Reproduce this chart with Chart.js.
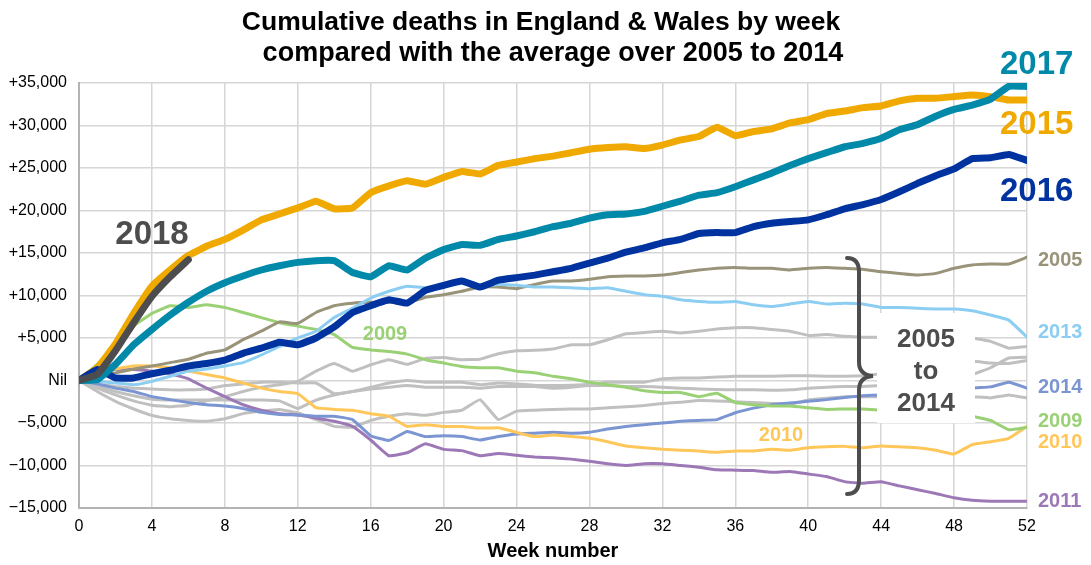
<!DOCTYPE html>
<html>
<head>
<meta charset="utf-8">
<script src="https://cdn.jsdelivr.net/npm/chart.js@4"></script>
<style>
  body { margin: 0; background: #fff; }
  #wrap { width: 1091px; height: 565px; position: relative; }
</style>
</head>
<body>
<div id="wrap"><canvas id="chart"></canvas></div>
<script>
// cumulative excess deaths, thousands, vs 2005-2014 average
const weeks = [0, 1, 2, 3, 4, 5, 6, 7, 8, 9, 10, 11, 12, 13, 14, 15, 16, 17, 18, 19, 20,
  21, 22, 23, 24, 25, 26, 27, 28, 29, 30, 31, 32, 33, 34, 35, 36, 37, 38, 39, 40, 41,
  42, 43, 44, 45, 46, 47, 48, 49, 50, 51, 52];

const y2018 = [0, 0.7, 3.5, 6.8, 9.9, 12.2, 14.2];
const y2017 = [0, 0.1, 1.9, 4.2, 6.0, 7.7, 9.2, 10.5, 11.5, 12.3, 13.0, 13.5, 13.9,
  14.1, 14.1, 12.7, 12.2, 13.5, 13.0, 14.4, 15.4, 16.0, 15.9, 16.6, 17.0,
  17.5, 18.1, 18.5, 19.1, 19.5, 19.6, 19.9, 20.5, 21.1, 21.8, 22.1, 22.8,
  23.6, 24.4, 25.3, 26.1, 26.8, 27.5, 27.9, 28.5, 29.5, 30.1, 31.1, 31.9, 32.4, 33.1, 34.6, 34.6];
const y2016 = [0, 1.3, 0.3, 0.3, 0.8, 1.2, 1.7, 2.0, 2.4, 3.2, 3.8, 4.5, 4.2,
  5.0, 6.3, 8.0, 8.8, 9.5, 9.1, 10.6, 11.2, 11.7, 11.0, 11.8, 12.1,
  12.4, 12.8, 13.2, 13.8, 14.4, 15.1, 15.6, 16.2, 16.6, 17.3, 17.4, 17.4,
  18.1, 18.5, 18.7, 18.9, 19.5, 20.2, 20.7, 21.3, 22.2, 23.2, 24.1, 24.9, 26.1, 26.2, 26.6, 25.9];
const y2015 = [0, 1.5, 4.3, 7.9, 11.1, 13.0, 14.7, 15.8, 16.6, 17.7, 18.9, 19.6, 20.3,
  21.1, 20.2, 20.3, 22.1, 22.9, 23.5, 23.1, 23.9, 24.6, 24.3, 25.3, 25.7,
  26.1, 26.4, 26.8, 27.2, 27.4, 27.5, 27.3, 27.7, 28.3, 28.7, 29.8, 28.8,
  29.3, 29.6, 30.3, 30.7, 31.4, 31.7, 32.1, 32.3, 32.9, 33.2, 33.2, 33.4, 33.6, 33.4, 33.0, 33.0];
const y2005 = [0, 0.5, 0.9, 1.35, 1.7, 2.1, 2.5, 3.2, 3.6, 4.8, 5.8, 6.9, 6.7,
  8.0, 8.8, 9.1, 9.2, 9.2, 9.1, 9.8, 10.1, 10.5, 11.0, 11.0, 10.8,
  11.3, 11.7, 11.7, 11.9, 12.2, 12.3, 12.3, 12.4, 12.7, 13.0, 13.2, 13.3,
  13.2, 13.2, 13.0, 13.2, 13.3, 13.2, 13.1, 12.8, 12.6, 12.4, 12.6, 13.2, 13.6, 13.7, 13.7, 14.5];
const y2013 = [0, -0.1, -0.3, -0.5, -0.1, 0.5, 1.1, 1.35, 1.7, 2.1, 3.0, 4.0, 5.0,
  5.8, 7.4, 8.5, 9.7, 10.5, 11.1, 10.9, 11.2, 11.4, 11.1, 11.3, 11.2,
  11.0, 11.0, 10.9, 10.8, 10.9, 10.5, 10.1, 9.9, 9.5, 9.3, 9.2, 9.3,
  8.9, 8.7, 9.0, 9.3, 9.0, 9.1, 9.0, 8.6, 8.6, 8.5, 8.4, 8.4, 8.2, 7.7, 7.1, 5.1];
const y2009 = [0, 1.9, 4.0, 6.4, 7.9, 8.8, 8.6, 8.9, 8.6, 8.0, 7.4, 6.8, 6.4,
  6.0, 5.4, 3.9, 3.6, 3.4, 3.1, 2.45, 2.05, 1.65, 1.5, 1.5, 1.1,
  0.9, 0.5, 0.2, -0.2, -0.5, -0.8, -1.2, -1.4, -1.4, -1.9, -1.5, -2.6,
  -2.85, -3.0, -3.0, -3.2, -3.4, -3.35, -3.35, -3.5, -3.6, -3.8, -3.9, -4.0, -4.2, -4.7, -5.8, -5.5];
const y2010 = [0, 0.9, 1.35, 1.7, 1.7, 1.5, 1.1, 0.7, 0.3, -0.3, -0.9, -1.3, -1.55,
  -3.2, -3.4, -3.5, -3.9, -4.2, -5.4, -5.2, -5.4, -5.4, -5.6, -5.55, -6.1,
  -6.6, -6.4, -6.6, -6.8, -7.2, -7.7, -7.9, -8.1, -8.2, -8.3, -8.45, -8.3,
  -8.3, -8.1, -8.2, -7.9, -7.8, -7.75, -7.9, -7.7, -7.8, -7.9, -8.2, -8.65, -7.55, -7.2, -6.8, -5.4];
const y2011 = [0, 0.9, 1.3, 1.3, 1.1, 0.8, 0.2, -0.9, -1.9, -2.85, -3.5, -3.9, -4.05,
  -4.4, -4.8, -5.4, -7.0, -8.85, -8.5, -7.45, -8.1, -8.25, -8.85, -8.6, -8.8,
  -9.0, -9.1, -9.25, -9.5, -9.8, -10.0, -9.8, -9.8, -10.0, -10.2, -10.5, -10.55,
  -10.6, -10.8, -10.7, -11.0, -11.3, -11.9, -12.1, -11.9, -12.4, -12.85, -13.3, -13.8, -14.1, -14.2, -14.2, -14.2];
const y2014 = [0, -0.4, -0.9, -1.3, -1.9, -2.25, -2.6, -2.85, -3.0, -3.3, -3.75, -4.0, -4.05,
  -4.2, -4.2, -4.6, -6.5, -7.05, -6.0, -6.6, -6.5, -6.6, -7.0, -6.6, -6.3,
  -6.2, -6.1, -6.2, -6.1, -5.7, -5.4, -5.2, -5.0, -4.8, -4.7, -4.6, -3.8,
  -3.25, -2.85, -2.65, -2.45, -2.25, -2.0, -1.8, -1.7, -1.6, -1.5, -1.4, -1.3, -0.9, -0.75, -0.2, -0.9];
// the grey years
const y2012 = [0, -0.9, -1.7, -2.4, -2.9, -3.1, -2.9, -2.4, -1.9, -1.3, -0.8, -0.5, -0.1,
  1.1, 2.0, 1.1, 1.85, 2.45, 1.9, 2.6, 2.7, 2.45, 2.5, 3.15, 3.5,
  3.55, 3.7, 4.2, 4.2, 4.8, 5.5, 5.65, 5.8, 5.6, 5.8, 6.05, 6.2,
  6.2, 6.0, 5.8, 5.3, 5.4, 5.2, 5.1, 5.1, 5.1, 5.1, 5.1, 5.0, 5.0, 4.6, 3.8, 4.0];
const y2006 = [0, -0.4, -0.7, -0.9, -1.0, -1.1, -1.1, -1.0, -0.6, -0.4, -0.2, -0.2, -0.3,
  -0.3, -1.55, -1.3, -0.8, -0.3, 0.0, -0.2, -0.2, -0.2, -0.5, -0.3, -0.4,
  -0.55, -0.6, -0.55, -0.45, -0.2, -0.2, -0.2, 0.2, 0.3, 0.3, 0.4, 0.5,
  0.5, 0.5, 0.55, 0.55, 0.5, 0.5, 0.55, 0.8, 1.1, 1.4, 1.7, 2.0, 2.25, 2.05, 2.0, 2.35];
const y2007 = [0, -0.7, -1.3, -1.8, -2.2, -2.3, -2.3, -2.3, -2.3, -2.3, -2.3, -2.4, -3.3,
  -2.3, -1.7, -1.3, -1.0, -0.8, -0.6, -0.8, -0.8, -0.8, -0.9, -0.7, -0.7,
  -0.7, -0.9, -0.8, -0.6, -0.6, -0.7, -0.7, -0.8, -0.9, -1.0, -1.05, -1.1,
  -1.1, -1.15, -1.1, -0.9, -0.8, -0.7, -0.7, -0.6, -0.4, -0.2, 0.1, 0.4, 0.7, 1.5, 2.65, 2.75];
const y2008 = [0, -1.3, -2.45, -3.35, -4.1, -4.5, -4.7, -4.8, -4.5, -3.9, -3.6, -3.4, -3.8,
  -4.6, -5.4, -5.5, -4.7, -4.2, -3.9, -4.1, -3.75, -3.5, -2.25, -4.6, -3.6,
  -3.5, -3.4, -3.35, -3.35, -3.2, -3.1, -2.95, -2.7, -2.55, -2.35, -2.4, -2.5,
  -2.6, -2.7, -2.8, -2.3, -2.1, -1.9, -1.9, -1.9, -1.9, -1.9, -1.9, -1.9, -1.9, -2.05, -1.7, -2.05];

const FONT = "'Liberation Sans', Arial, sans-serif";
Chart.defaults.font.family = FONT;

function line(label, data, color, width) {
  return {
    label: label,
    data: data,
    borderColor: color,
    backgroundColor: color,
    borderWidth: width,
    pointRadius: 0,
    tension: 0.1,
    borderJoinStyle: 'round',
    borderCapStyle: 'round',
    fill: false
  };
}

// first dataset is painted last (on top)
const datasets = [
  line('2018', y2018, '#4d4d4f', 7),
  line('2017', y2017, '#0089a8', 7),
  line('2016', y2016, '#0033a0', 7),
  line('2015', y2015, '#f0a900', 7),
  line('2013', y2013, '#8ccdf2', 3),
  line('2005', y2005, '#999379', 3),
  line('2009', y2009, '#9ad174', 3),
  line('2010', y2010, '#ffc75a', 3),
  line('2014', y2014, '#7b95d3', 3),
  line('2011', y2011, '#9d78b6', 3),
  line('2012', y2012, '#c0c0c0', 3),
  line('2006', y2006, '#c0c0c0', 3),
  line('2007', y2007, '#c0c0c0', 3),
  line('2008', y2008, '#c0c0c0', 3)
];

function text(ctx, str, x, y, size, color, align) {
  ctx.font = 'bold ' + size + 'px ' + FONT;
  ctx.fillStyle = color;
  ctx.textAlign = align || 'left';
  ctx.textBaseline = 'middle';
  ctx.fillText(str, x, y);
}

const annotations = {
  id: 'annotations',
  afterDatasetsDraw(chart) {
    const ctx = chart.ctx;
    ctx.save();
    // white box for the 2005 to 2014 note
    ctx.fillStyle = '#fff';
    ctx.fillRect(877, 313, 98, 110);
    text(ctx, '2005', 926, 340, 26, '#4d4d4f', 'center');
    text(ctx, 'to', 926, 372, 26, '#4d4d4f', 'center');
    text(ctx, '2014', 926, 404, 26, '#4d4d4f', 'center');
    // brace
    ctx.strokeStyle = '#4d4d4f';
    ctx.lineWidth = 4;
    ctx.lineCap = 'round';
    ctx.beginPath();
    ctx.moveTo(847, 258);
    ctx.quadraticCurveTo(859, 258, 859, 272);
    ctx.lineTo(859, 362);
    ctx.quadraticCurveTo(859, 375, 873, 376);
    ctx.quadraticCurveTo(859, 377, 859, 390);
    ctx.lineTo(859, 480);
    ctx.quadraticCurveTo(859, 494, 847, 494);
    ctx.stroke();
    // in-plot labels
    text(ctx, '2009', 385, 334, 20, '#9ad174', 'center');
    text(ctx, '2010', 781, 435, 20, '#ffc75a', 'center');
    ctx.restore();
  },
  afterDraw(chart) {
    const ctx = chart.ctx;
    ctx.save();
    text(ctx, 'Cumulative deaths in England & Wales by week', 541, 23, 26.5, '#000', 'center');
    text(ctx, 'compared with the average over 2005 to 2014', 553, 54, 27, '#000', 'center');
    text(ctx, 'Week number', 553, 551, 20, '#000', 'center');

    text(ctx, '2018', 152, 235, 33, '#4d4d4f', 'center');
    text(ctx, '2017', 1000, 65, 33, '#0089a8');
    text(ctx, '2015', 1000, 125, 33, '#f0a900');
    text(ctx, '2016', 1000, 192, 33, '#0033a0');

    text(ctx, '2005', 1038, 260, 20, '#999379');
    text(ctx, '2013', 1038, 332, 20, '#8ccdf2');
    text(ctx, '2014', 1038, 387, 20, '#7b95d3');
    text(ctx, '2009', 1038, 421, 20, '#9ad174');
    text(ctx, '2010', 1038, 442, 20, '#ffc75a');
    text(ctx, '2011', 1038, 501, 20, '#9d78b6');
    ctx.restore();
  }
};

new Chart(document.getElementById('chart'), {
  type: 'line',
  data: { labels: weeks, datasets: datasets },
  options: {
    responsive: true,
    maintainAspectRatio: false,
    animation: false,
    layout: { padding: { top: 83, right: 64, bottom: 0, left: 0 } },
    plugins: {
      legend: { display: false },
      title: { display: false },
      tooltip: { enabled: false }
    },
    scales: {
      x: {
        type: 'linear',
        min: 0,
        max: 52,
        afterFit: s => { s.height = 57; },
        ticks: { stepSize: 4, padding: 9, color: '#000', font: { size: 16 } },
        grid: { color: '#d6d6d6', lineWidth: 1.5, drawTicks: false },
        border: { color: '#b3b3b3', width: 2 }
      },
      y: {
        min: -15,
        max: 35,
        afterFit: s => { s.width = 79; },
        ticks: {
          stepSize: 5,
          padding: 12,
          color: '#000',
          font: { size: 16 },
          callback: v => v === 0 ? 'Nil'
            : (v > 0 ? '+' : '\u2212') + (Math.abs(v) * 1000).toLocaleString('en-US')
        },
        grid: { color: '#d6d6d6', lineWidth: 1.5, drawTicks: false },
        border: { color: '#b3b3b3', width: 2 }
      }
    }
  },
  plugins: [annotations]
});
</script>
</body>
</html>
